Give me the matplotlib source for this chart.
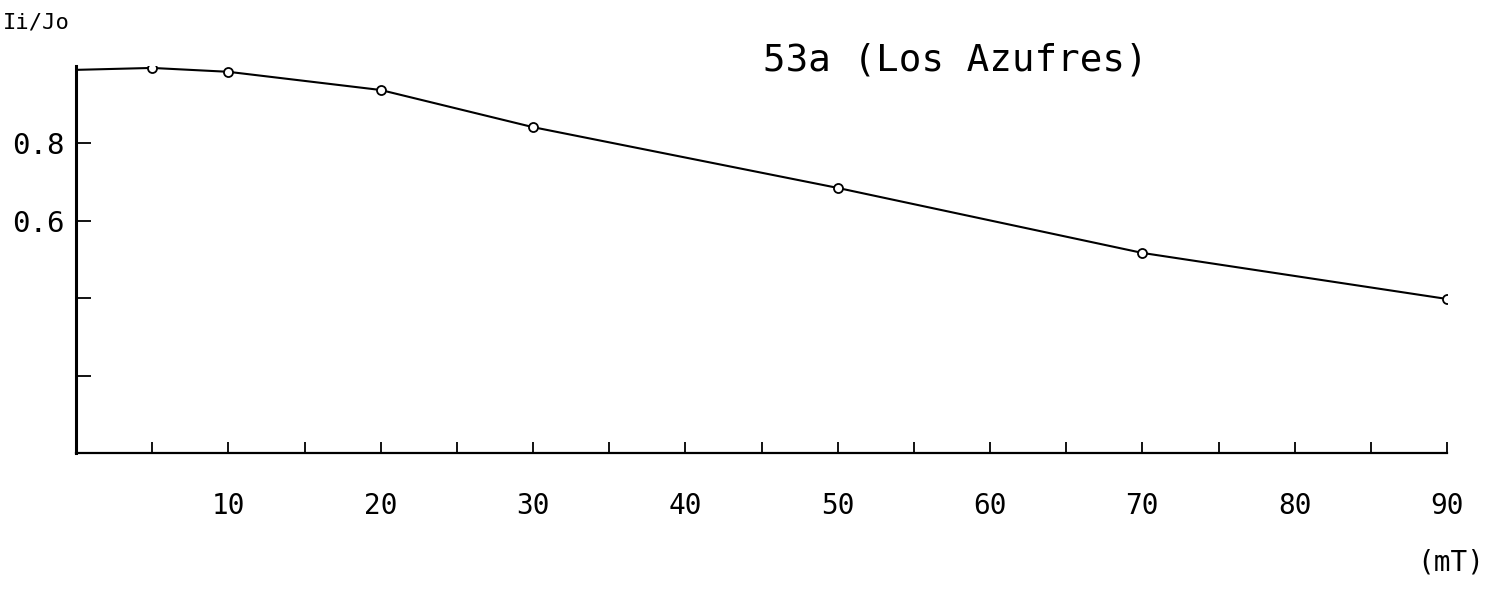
import matplotlib
matplotlib.use("Agg")
import matplotlib.pyplot as plt

plt.rcParams["font.family"] = ["DejaVu Sans Mono", "DejaVu Sans"]

# Data
field_mT = [0, 5, 10, 20, 30, 50, 70, 90]
intensity_ratio = [0.990, 0.995, 0.985, 0.938, 0.842, 0.685, 0.517, 0.398]
marker_mask = [False, True, True, True, True, True, True, True]
x_tick_major = [10, 20, 30, 40, 50, 60, 70, 80, 90]
x_tick_labels = ["10", "20", "30", "40", "50", "60", "70", "80", "90"]
x_tick_minor = [0, 5, 15, 25, 35, 45, 55, 65, 75, 85]
y_ticks = [0.2, 0.4, 0.6, 0.8]
y_tick_labels = ["", "", "0.6", "0.8"]
title_text = "53a (Los Azufres)"
y_label_text = "Ii/Jo"
x_unit_text = "(mT)"

fig = plt.figure(figsize=(14.86, 5.93), dpi=100)
ax = fig.add_axes([76/1486, (593-453)/593, (1447-76)/1486, (453-66)/593])

ax.plot(field_mT, intensity_ratio, color="black", lw=1.5, zorder=2)
mx = [x for x, m in zip(field_mT, marker_mask) if m]
my = [y for y, m in zip(intensity_ratio, marker_mask) if m]
ax.plot(mx, my, linestyle="none", marker="o", markersize=6.5,
        markerfacecolor="white", markeredgecolor="black", markeredgewidth=1.3, zorder=3)

ax.set_xlim(0, 90)
ax.set_ylim(0, 1.0)

for s in ["top", "right"]:
    ax.spines[s].set_visible(False)
ax.spines["left"].set_linewidth(2.2)
ax.spines["bottom"].set_linewidth(1.6)

ax.set_xticks(x_tick_major)
ax.set_xticklabels(x_tick_labels)
ax.set_xticks(x_tick_minor, minor=True)
ax.tick_params(axis="x", which="both", direction="in", length=8, width=1.3, pad=28,
               labelsize=20)
ax.set_yticks(y_ticks)
ax.set_yticklabels(y_tick_labels)
ax.tick_params(axis="y", direction="in", length=11, width=1.3, pad=8, labelsize=21)

fig.text(955/1486, 1-60/593, title_text, ha="center", va="center", fontsize=27)
fig.text(36/1486, 1-22/593, y_label_text, ha="center", va="center", fontsize=16)
fig.text(1451/1486, 1-563/593, x_unit_text, ha="center", va="center", fontsize=20)

fig.savefig("out.png", dpi=100)
